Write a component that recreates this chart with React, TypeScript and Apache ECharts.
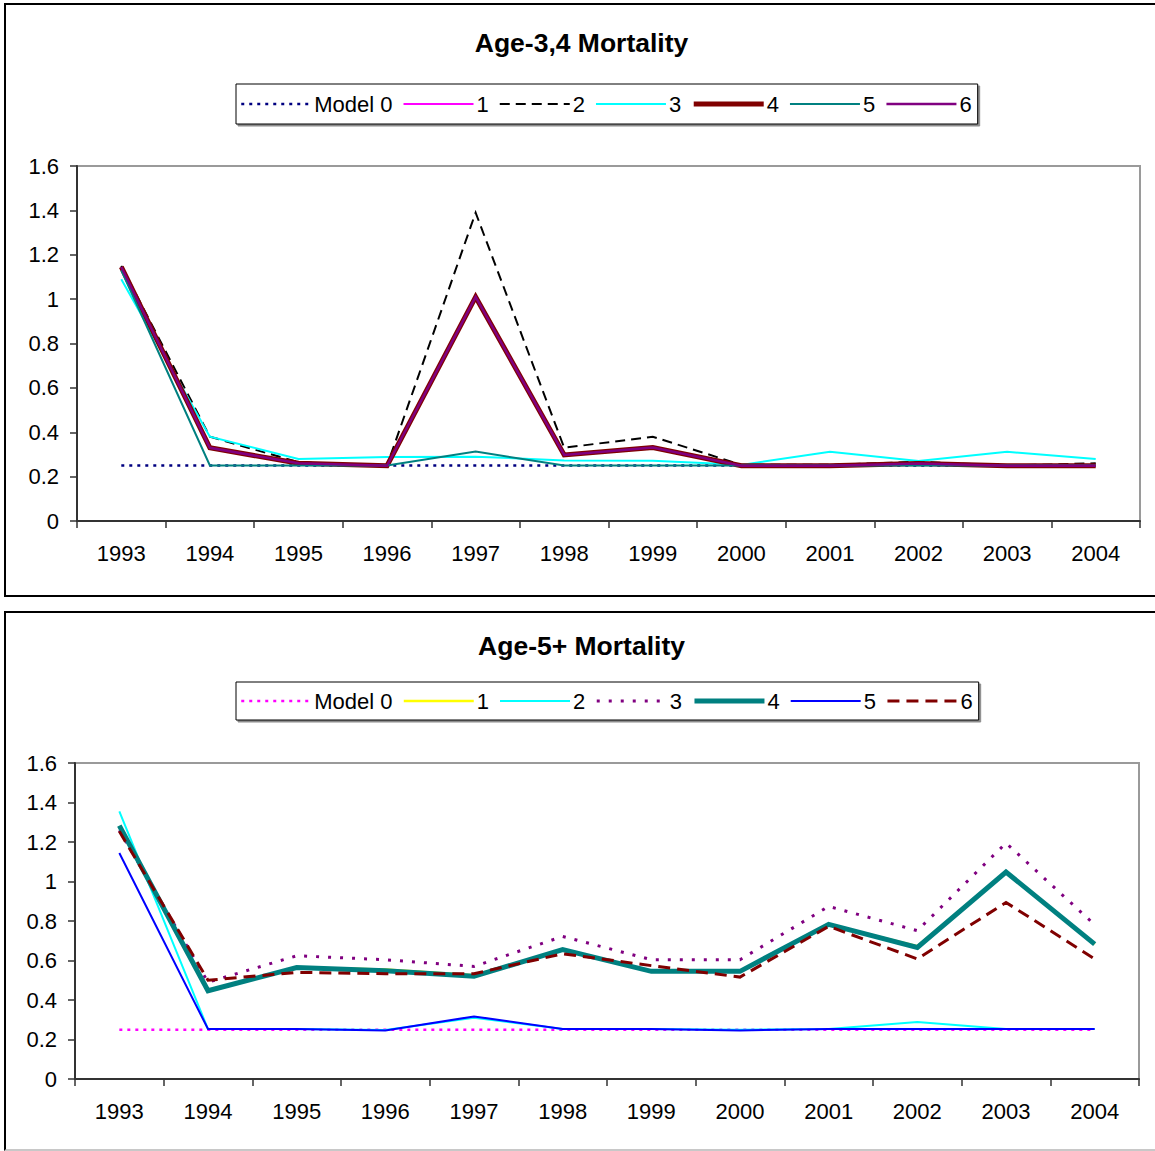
import React, { useEffect, useRef } from "react";
import * as echarts from "echarts";

const FONT = "'Liberation Sans', Arial, sans-serif";

// ---- Data ----
const years = ["1993", "1994", "1995", "1996", "1997", "1998", "1999", "2000", "2001", "2002", "2003", "2004"];
const yTicks = [0, 0.2, 0.4, 0.6, 0.8, 1, 1.2, 1.4, 1.6];

// Age-3,4 Mortality
const a34Model0 = [0.25, 0.25, 0.25, 0.25, 0.25, 0.25, 0.25, 0.25, 0.25, 0.25, 0.25, 0.25];
const a34S1 = [1.145, 0.33, 0.26, 0.249, 1.01, 0.298, 0.331, 0.249, 0.249, 0.259, 0.249, 0.249];
const a34S2 = [1.15, 0.38, 0.265, 0.25, 1.39, 0.33, 0.38, 0.253, 0.253, 0.267, 0.25, 0.26];
const a34S3 = [1.09, 0.38, 0.28, 0.288, 0.29, 0.273, 0.271, 0.253, 0.312, 0.271, 0.312, 0.279];
const a34S4 = [1.145, 0.33, 0.26, 0.249, 1.01, 0.298, 0.331, 0.249, 0.249, 0.259, 0.249, 0.249];
const a34S5 = [1.13, 0.25, 0.25, 0.25, 0.313, 0.25, 0.25, 0.25, 0.25, 0.25, 0.25, 0.25];
const a34S6 = [1.145, 0.33, 0.26, 0.249, 1.01, 0.298, 0.331, 0.249, 0.249, 0.259, 0.249, 0.249];

// Age-5+ Mortality
const a5Model0 = [0.25, 0.25, 0.25, 0.25, 0.25, 0.25, 0.25, 0.25, 0.25, 0.25, 0.25, 0.25];
const a5S1 = [1.28, 0.45, 0.565, 0.555, 0.525, 0.655, 0.545, 0.545, 0.783, 0.672, 1.05, 0.683];
const a5S2 = [1.355, 0.253, 0.253, 0.248, 0.31, 0.253, 0.253, 0.25, 0.253, 0.289, 0.253, 0.253];
const a5S3 = [1.26, 0.49, 0.624, 0.604, 0.57, 0.722, 0.604, 0.604, 0.874, 0.751, 1.195, 0.781];
const a5S4 = [1.283, 0.447, 0.564, 0.548, 0.52, 0.655, 0.545, 0.545, 0.783, 0.666, 1.048, 0.683];
const a5S5 = [1.144, 0.253, 0.253, 0.246, 0.317, 0.253, 0.253, 0.246, 0.253, 0.253, 0.253, 0.253];
const a5S6 = [1.254, 0.5, 0.54, 0.533, 0.533, 0.634, 0.574, 0.516, 0.773, 0.608, 0.894, 0.608];

type SeriesDef = { name: string; data: number[]; color: string; width: number; dash: any };

const a34Series: SeriesDef[] = [
  { name: "Model 0", data: a34Model0, color: "#000080", width: 2.5, dash: [3, 5] },
  { name: "1", data: a34S1, color: "#FF00FF", width: 2, dash: "solid" },
  { name: "2", data: a34S2, color: "#000000", width: 2, dash: [10, 6] },
  { name: "3", data: a34S3, color: "#00FFFF", width: 2, dash: "solid" },
  { name: "4", data: a34S4, color: "#800000", width: 5, dash: "solid" },
  { name: "5", data: a34S5, color: "#008080", width: 2, dash: "solid" },
  { name: "6", data: a34S6, color: "#800080", width: 2.5, dash: "solid" },
];

const a5Series: SeriesDef[] = [
  { name: "Model 0", data: a5Model0, color: "#FF00FF", width: 2.5, dash: [3, 5] },
  { name: "1", data: a5S1, color: "#FFFF00", width: 2.5, dash: "solid" },
  { name: "2", data: a5S2, color: "#00FFFF", width: 2, dash: "solid" },
  { name: "3", data: a5S3, color: "#800080", width: 3, dash: [3, 9] },
  { name: "4", data: a5S4, color: "#008080", width: 5, dash: "solid" },
  { name: "5", data: a5S5, color: "#0000FF", width: 2, dash: "solid" },
  { name: "6", data: a5S6, color: "#800000", width: 3, dash: [12, 7] },
];

type Layout = {
  title: string;
  titleTop: number;
  legendLeft: number;
  legendTop: number;
  legendPad: number[];
  gridLeft: number;
  gridTop: number;
  gridWidth: number;
  gridHeight: number;
};

function buildOption(series: SeriesDef[], L: Layout) {
  return {
    animation: false,
    backgroundColor: "#ffffff",
    textStyle: { fontFamily: FONT },
    title: {
      text: L.title,
      left: "center",
      top: L.titleTop,
      padding: 0,
      textStyle: { fontFamily: FONT, fontWeight: "bold", fontSize: 26.5, color: "#000" },
    },
    legend: {
      left: L.legendLeft,
      top: L.legendTop,
      padding: L.legendPad,
      itemWidth: 70,
      itemHeight: 14,
      itemGap: 10,
      selectedMode: false,
      borderColor: "#000",
      borderWidth: 1,
      backgroundColor: "#fff",
      shadowColor: "rgba(0,0,0,0.45)",
      shadowOffsetX: 2,
      shadowOffsetY: 2,
      shadowBlur: 0,
      itemStyle: { opacity: 0, borderWidth: 0 },
      textStyle: { fontFamily: FONT, fontSize: 22, color: "#000", padding: [0, 0, 0, -2], lineHeight: 22 },
      data: series.map((s) => ({
        name: s.name,
        itemStyle: { opacity: 0, borderWidth: 0 },
        lineStyle: { color: s.color, width: s.width, type: s.dash, cap: "butt" },
      })),
    },
    grid: {
      left: L.gridLeft,
      top: L.gridTop,
      width: L.gridWidth,
      height: L.gridHeight,
      show: true,
      borderColor: "#9a9a9a",
      borderWidth: 2,
      backgroundColor: "#fff",
    },
    xAxis: {
      type: "category",
      data: years,
      boundaryGap: true,
      axisLine: { show: true, lineStyle: { color: "#333", width: 2 } },
      axisTick: { show: true, length: 7, lineStyle: { color: "#333", width: 1.5 } },
      axisLabel: { fontFamily: FONT, fontSize: 22, color: "#000", margin: 21 },
      splitLine: { show: false },
    },
    yAxis: {
      type: "value",
      min: yTicks[0],
      max: yTicks[yTicks.length - 1],
      interval: 0.2,
      axisLine: { show: true, lineStyle: { color: "#333", width: 2 } },
      axisTick: { show: true, length: 7, lineStyle: { color: "#333", width: 1.5 } },
      axisLabel: {
        fontFamily: FONT,
        fontSize: 22,
        color: "#000",
        margin: 18,
        formatter: (v: number) => String(Math.round(v * 10) / 10),
      },
      splitLine: { show: false },
    },
    series: series.map((s) => ({
      name: s.name,
      type: "line",
      data: s.data,
      symbol: "none",
      showSymbol: false,
      silent: true,
      color: s.color,
      lineStyle: { color: s.color, width: s.width, type: s.dash, cap: "butt", join: "miter" },
      emphasis: { disabled: true },
    })),
  };
}

function EChart({ option, width, height }: { option: any; width: number; height: number }) {
  const ref = useRef<HTMLDivElement>(null);
  useEffect(() => {
    const chart = echarts.init(ref.current as HTMLDivElement, null, { renderer: "svg" });
    chart.setOption(option);
    return () => chart.dispose();
  }, [option]);
  return <div ref={ref} style={{ width, height }} />;
}

const opt1 = buildOption(a34Series, {
  title: "Age-3,4 Mortality",
  titleTop: 24,
  legendLeft: 230,
  legendTop: 79,
  legendPad: [9, 6, 9, 4],
  gridLeft: 71,
  gridTop: 161,
  gridWidth: 1063,
  gridHeight: 355,
});

const opt2 = buildOption(a5Series, {
  title: "Age-5+ Mortality",
  titleTop: 19,
  legendLeft: 230,
  legendTop: 69,
  legendPad: [8, 6, 8, 4],
  gridLeft: 69,
  gridTop: 150,
  gridWidth: 1064,
  gridHeight: 316,
});

export default function App() {
  return (
    <div style={{ position: "absolute", left: 0, top: 0, width: 1155, height: 1151, overflow: "hidden", background: "#fff" }}>
      <div
        style={{
          position: "absolute",
          left: 4,
          top: 3,
          width: 1151,
          height: 590,
          borderTop: "2px solid #000",
          borderLeft: "2px solid #000",
          borderBottom: "2px solid #000",
        }}
      >
        <EChart option={opt1} width={1151} height={590} />
      </div>
      <div
        style={{
          position: "absolute",
          left: 4,
          top: 611,
          width: 1151,
          height: 536,
          borderTop: "2px solid #000",
          borderLeft: "2px solid #000",
          borderBottom: "2px solid #c8c8c8",
        }}
      >
        <EChart option={opt2} width={1151} height={536} />
      </div>
    </div>
  );
}
